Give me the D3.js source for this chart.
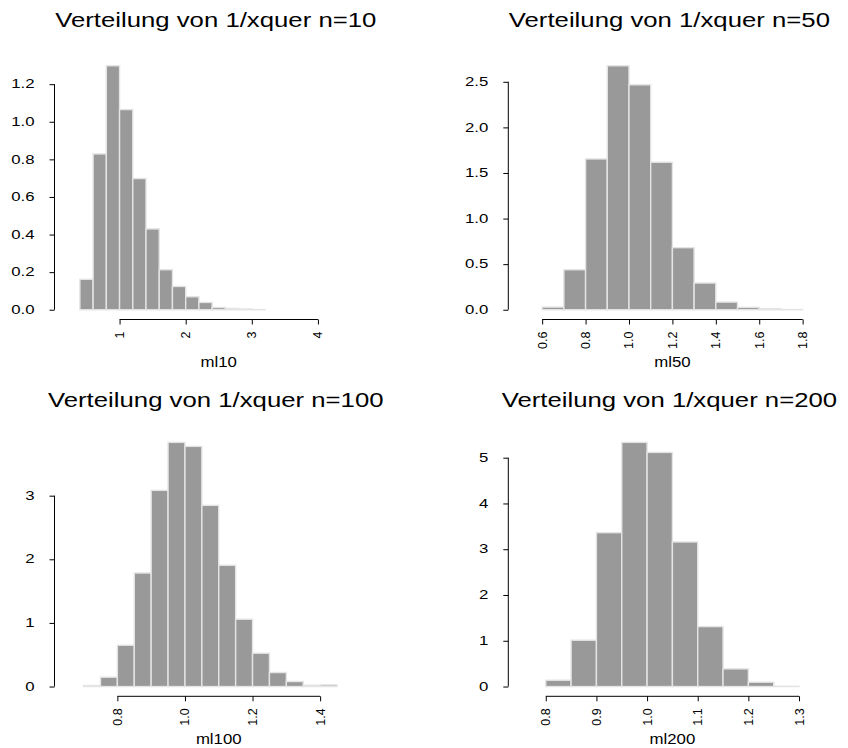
<!DOCTYPE html>
<html>
<head>
<meta charset="utf-8">
<script src="https://cdn.jsdelivr.net/npm/d3@7"></script>
<style>
  html, body { margin: 0; padding: 0; background: #ffffff; }
  svg { display: block; }
</style>
</head>
<body>
<svg id="chart" width="848" height="748"></svg>
<script>
// ---------- data ----------
const titles = ["Verteilung von 1/xquer n=10", "Verteilung von 1/xquer n=50",
                "Verteilung von 1/xquer n=100", "Verteilung von 1/xquer n=200"];
const xLabels = ["ml10", "ml50", "ml100", "ml200"];

const breaks10 = [0.2,0.4,0.6,0.8,1.0,1.2,1.4,1.6,1.8,2.0,2.2,2.4,2.6,2.8,3.0,3.2,3.4,3.6,3.8,4.0,4.2,4.4,4.6,4.8];
const density10 = [0,0.162,0.829,1.298,1.065,0.698,0.430,0.213,0.124,0.069,0.039,0.012,0.007,0.004,0.001,0,0,0,0,0,0,0,0];

const breaks50 = [0.5,0.6,0.7,0.8,0.9,1.0,1.1,1.2,1.3,1.4,1.5,1.6,1.7,1.8,1.9];
const density50 = [0,0.029,0.439,1.654,2.676,2.467,1.618,0.681,0.293,0.084,0.026,0.011,0.002,0];

const breaks100 = [0.65,0.70,0.75,0.80,0.85,0.90,0.95,1.00,1.05,1.10,1.15,1.20,1.25,1.30,1.35,1.40,1.45,1.50,1.55];
const density100 = [0,0.016,0.147,0.649,1.785,3.084,3.838,3.775,2.848,1.906,1.058,0.524,0.220,0.079,0.021,0.026,0,0];

const breaks200 = [0.75,0.80,0.85,0.90,0.95,1.00,1.05,1.10,1.15,1.20,1.25,1.30,1.35];
const density200 = [0,0.138,1.012,3.362,5.335,5.116,3.159,1.310,0.386,0.095,0.005,0];

const xTicks10 = [1,2,3,4];
const xTickLabels10 = ["1","2","3","4"];
const yTicks10 = [0,0.2,0.4,0.6,0.8,1.0,1.2];
const yTickLabels10 = ["0.0","0.2","0.4","0.6","0.8","1.0","1.2"];

const xTicks50 = [0.6,0.8,1.0,1.2,1.4,1.6,1.8];
const xTickLabels50 = ["0.6","0.8","1.0","1.2","1.4","1.6","1.8"];
const yTicks50 = [0,0.5,1.0,1.5,2.0,2.5];
const yTickLabels50 = ["0.0","0.5","1.0","1.5","2.0","2.5"];

const xTicks100 = [0.8,1.0,1.2,1.4];
const xTickLabels100 = ["0.8","1.0","1.2","1.4"];
const yTicks100 = [0,1,2,3];
const yTickLabels100 = ["0","1","2","3"];

const xTicks200 = [0.8,0.9,1.0,1.1,1.2,1.3];
const xTickLabels200 = ["0.8","0.9","1.0","1.1","1.2","1.3"];
const yTicks200 = [0,1,2,3,4,5];
const yTickLabels200 = ["0","1","2","3","4","5"];

// ---------- layout ----------
const colX = [[54.5, 383], [508.3, 836.5]];
const rowY = [[56, 319.5], [432.6, 696.3]];
const titleBase = [26.5, 406.5];
const FONT = "'Liberation Sans', Arial, Helvetica, sans-serif";

const panels = [
  {title: titles[0], xlab: xLabels[0], breaks: breaks10, dens: density10, xt: xTicks10, xtl: xTickLabels10, yt: yTicks10, ytl: yTickLabels10, col: 0, row: 0},
  {title: titles[1], xlab: xLabels[1], breaks: breaks50, dens: density50, xt: xTicks50, xtl: xTickLabels50, yt: yTicks50, ytl: yTickLabels50, col: 1, row: 0},
  {title: titles[2], xlab: xLabels[2], breaks: breaks100, dens: density100, xt: xTicks100, xtl: xTickLabels100, yt: yTicks100, ytl: yTickLabels100, col: 0, row: 1},
  {title: titles[3], xlab: xLabels[3], breaks: breaks200, dens: density200, xt: xTicks200, xtl: xTickLabels200, yt: yTicks200, ytl: yTickLabels200, col: 1, row: 1}
];

const svg = d3.select("#chart");

panels.forEach(p => {
  const [L, R] = colX[p.col];
  const [T, B] = rowY[p.row];
  const b0 = p.breaks[0], b1 = p.breaks[p.breaks.length - 1];
  const ext = (b1 - b0) * 0.04;
  const x = d3.scaleLinear().domain([b0 - ext, b1 + ext]).range([L, R]);
  const M = d3.max(p.dens);
  const y = d3.scaleLinear().domain([-0.04 * M, 1.04 * M]).range([B, T]);

  const g = svg.append("g");

  // bars
  const bins = p.dens.map((d, i) => ({x0: p.breaks[i], x1: p.breaks[i + 1], d}));
  g.selectAll("rect.bar").data(bins).enter().append("rect")
    .attr("class", "bar")
    .attr("x", d => x(d.x0))
    .attr("width", d => x(d.x1) - x(d.x0))
    .attr("y", d => y(d.d))
    .attr("height", d => y(0) - y(d.d))
    .attr("fill", "#999999")
    .attr("stroke", "#e4e4e4")
    .attr("stroke-width", 1.4);

  // y axis
  const ya = g.append("g").attr("transform", `translate(${L},0)`)
    .call(d3.axisLeft(y).tickValues(p.yt).tickSize(5).tickFormat(""));
  ya.select(".domain").remove();
  ya.selectAll("line").attr("stroke", "#000");
  ya.append("line")
    .attr("x1", 0).attr("x2", 0)
    .attr("y1", y(p.yt[0])).attr("y2", y(p.yt[p.yt.length - 1]))
    .attr("stroke", "#000").attr("stroke-width", 1);
  p.yt.forEach((v, i) => {
    g.append("text")
      .attr("transform", `translate(${L - 20},${y(v) + 4.2}) scale(1.4,1)`)
      .attr("text-anchor", "end")
      .style("font-family", FONT).style("font-size", "12px").attr("fill", "#000")
      .text(p.ytl[i]);
  });

  // x axis
  const xa = g.append("g").attr("transform", `translate(0,${B})`)
    .call(d3.axisBottom(x).tickValues(p.xt).tickSize(5).tickFormat(""));
  xa.select(".domain").remove();
  xa.selectAll("line").attr("stroke", "#000");
  xa.append("line")
    .attr("y1", 0).attr("y2", 0)
    .attr("x1", x(p.xt[0])).attr("x2", x(p.xt[p.xt.length - 1]))
    .attr("stroke", "#000").attr("stroke-width", 1);
  p.xt.forEach((v, i) => {
    g.append("text")
      .attr("transform", `translate(${x(v) + 4.5},${B + 12}) rotate(-90)`)
      .attr("text-anchor", "end")
      .style("font-family", FONT).style("font-size", "12.5px").attr("fill", "#000")
      .text(p.xtl[i]);
  });

  // x label
  g.append("text")
    .attr("transform", `translate(${(L + R) / 2},${B + 47.5}) scale(1.2,1)`)
    .attr("text-anchor", "middle")
    .style("font-family", FONT).style("font-size", "14px").attr("fill", "#000")
    .text(p.xlab);

  // title
  g.append("text")
    .attr("transform", `translate(${(L + R) / 2 - 3},${titleBase[p.row]}) scale(1.32,1)`)
    .attr("text-anchor", "middle")
    .style("font-family", FONT).style("font-size", "19.5px").attr("fill", "#000")
    .text(p.title);
});
</script>
</body>
</html>
